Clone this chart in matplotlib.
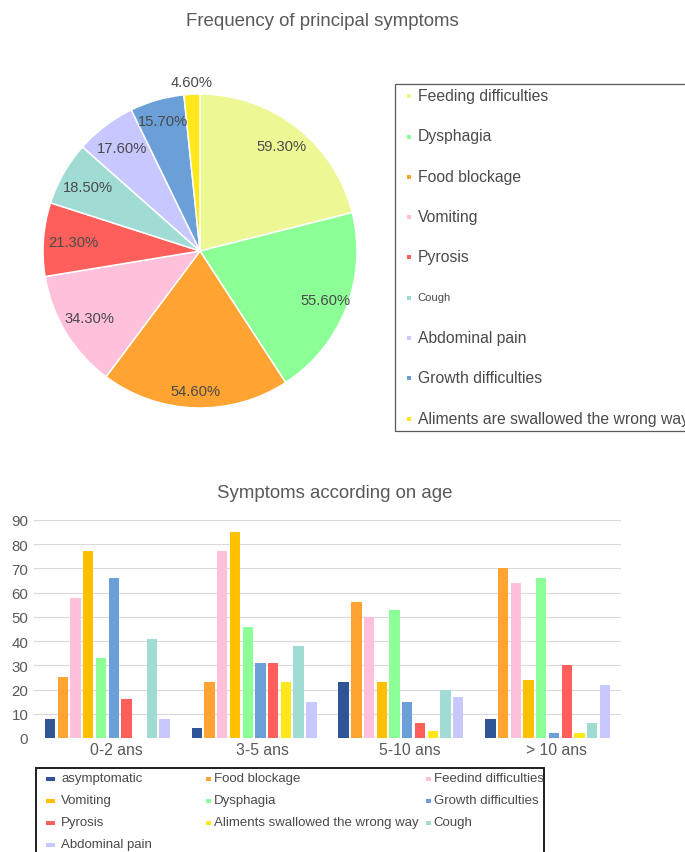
import matplotlib
matplotlib.use('Agg')
import matplotlib.pyplot as plt
from matplotlib.patches import Rectangle
from matplotlib.transforms import ScaledTranslation
import numpy as np

plt.rcParams['font.family'] = ['Liberation Sans', 'DejaVu Sans']

# ---------------- data ----------------
pie_title = "Frequency of principal symptoms"
pie_labels = ["Feeding difficulties", "Dysphagia", "Food blockage", "Vomiting",
              "Pyrosis", "Cough", "Abdominal pain", "Growth difficulties",
              "Aliments are swallowed the wrong way"]
pie_values = [59.3, 55.6, 54.6, 34.3, 21.3, 18.5, 17.6, 15.7, 4.6]
pie_colors = ['#EDF894', '#8CFF96', '#FFA333', '#FFC0DC', '#FF5F5A',
              '#A0DCD4', '#C6C8FF', '#6A9FD8', '#FFE81A']
# radial position of each value label (fraction of radius)
pie_label_radius = [0.85, 0.86, 0.89, 0.82, 0.81, 0.82, 0.82, 0.86, 1.08]

bar_title = "Symptoms according on age"
age_groups = ["0-2 ans", "3-5 ans", "5-10 ans", "> 10 ans"]
bar_series = ["asymptomatic", "Food blockage", "Feedind difficulties", "Vomiting",
              "Dysphagia", "Growth difficulties", "Pyrosis",
              "Aliments swallowed the wrong way", "Cough", "Abdominal pain"]
asymptomatic = [8, 4, 23, 8]
food_blockage = [25, 23, 56, 70]
feeding_difficulties = [58, 77, 50, 64]
vomiting = [77, 85, 23, 24]
dysphagia = [33, 46, 53, 66]
growth_difficulties = [66, 31, 15, 2]
pyrosis = [16, 31, 6, 30]
aliments_wrong_way = [0, 23, 3, 2]
cough = [41, 38, 20, 6]
abdominal_pain = [8, 15, 17, 22]
bar_values = [asymptomatic, food_blockage, feeding_difficulties, vomiting,
              dysphagia, growth_difficulties, pyrosis, aliments_wrong_way,
              cough, abdominal_pain]
bar_colors = ['#2F5597', '#FFA333', '#FFC0DC', '#FFC000', '#8CFF96',
              '#6A9FD8', '#FF5F5A', '#FFE81A', '#A0DCD4', '#C6C8FF']
y_ticks = list(range(0, 91, 10))

# ---------------- layout helpers ----------------
W, H = 685, 853
def fx(x):
    return x / W
def fy(y):
    return 1 - y / H

TITLE_C = '#595959'
TEXT_C = '#4a4a4a'

fig = plt.figure(figsize=(W / 100, H / 100), dpi=100)

# ---------------- pie ----------------
fig.text(fx(322), fy(21), pie_title, ha='center', va='center',
         fontsize=13.4, color=TITLE_C)

axp = fig.add_axes([fx(43), fy(409), 314 / W, 314 / H])
wedges, _ = axp.pie(pie_values, colors=pie_colors, startangle=90,
                    counterclock=False, radius=1,
                    wedgeprops=dict(edgecolor='white', linewidth=1.1))
for w, v, r in zip(wedges, pie_values, pie_label_radius):
    mid = np.deg2rad((w.theta1 + w.theta2) / 2)
    axp.text(r * np.cos(mid), r * np.sin(mid), f"{v:.2f}%", ha='center',
             va='center', fontsize=10.6, color=TEXT_C)
axp.set_xlim(-1, 1)
axp.set_ylim(-1, 1)
axp.set_aspect('equal')
axp.axis('off')

# pie legend
fig.add_artist(Rectangle((fx(395), fy(431.7)), (720 - 395) / W, (431.7 - 85) / H,
                         fill=False, edgecolor='#5a5a5a', linewidth=0.9,
                         transform=fig.transFigure))
for k, (lab, c) in enumerate(zip(pie_labels, pie_colors)):
    yc = 96.7 + k * 40.3
    fig.add_artist(Rectangle((fx(407), fy(yc + 2.5)), 4 / W, 4 / H, facecolor=c,
                             edgecolor='none', transform=fig.transFigure))
    fs = 8.1 if lab == "Cough" else 11.3
    fig.text(fx(417.7), fy(yc), lab, ha='left', va='center', fontsize=fs,
             color=TEXT_C)

# ---------------- bars ----------------
fig.text(fx(334.6), fy(494), bar_title, ha='center', va='center',
         fontsize=13.4, color=TITLE_C)

axb = fig.add_axes([fx(34), fy(739), (621 - 34) / W, (739 - 521) / H])
x = np.arange(len(age_groups))
pitch = 0.0868
width = 0.071
n = len(bar_series)
for i, (vals, c) in enumerate(zip(bar_values, bar_colors)):
    axb.bar(x + (i - (n - 1) / 2) * pitch, vals, width, color=c, zorder=3,
            linewidth=0)
axb.set_xlim(-0.5, len(age_groups) - 0.5)
axb.set_ylim(0, 90)
axb.set_yticks(y_ticks)
axb.set_xticks(x)
axb.set_xticklabels(age_groups)
axb.yaxis.grid(True, color='#D9D9D9', linewidth=0.8, zorder=0)
axb.set_axisbelow(True)
for s in axb.spines.values():
    s.set_visible(False)
axb.tick_params(axis='y', length=0, labelsize=10.8, labelcolor=TITLE_C, pad=4.1)
axb.tick_params(axis='x', length=0, labelsize=11.3, labelcolor=TITLE_C, pad=3.0)
off = ScaledTranslation(8.5 / 100, 0, fig.dpi_scale_trans)
for lab in axb.get_xticklabels():
    lab.set_transform(lab.get_transform() + off)

# bar legend
fig.add_artist(Rectangle((fx(36), fy(880)), (543.8 - 36) / W, (880 - 769.3) / H,
                         fill=False, edgecolor='#1e1e1e', linewidth=1.4,
                         transform=fig.transFigure))
marker_left = [46, 205.7, 425.5]
marker_w = [8.7, 5.3, 5.5]
text_left = [61, 214.3, 433.5]
for i, (lab, c) in enumerate(zip(bar_series, bar_colors)):
    row, col = divmod(i, 3)
    yc = 778.7 + row * 22.0
    fig.add_artist(Rectangle((fx(marker_left[col]), fy(yc + 3.6)),
                             marker_w[col] / W, 4.8 / H,
                             facecolor=c, edgecolor='none',
                             transform=fig.transFigure))
    fig.text(fx(text_left[col]), fy(yc), lab, ha='left', va='center',
             fontsize=9.5, color=TEXT_C)

fig.savefig('out.png', dpi=100)
